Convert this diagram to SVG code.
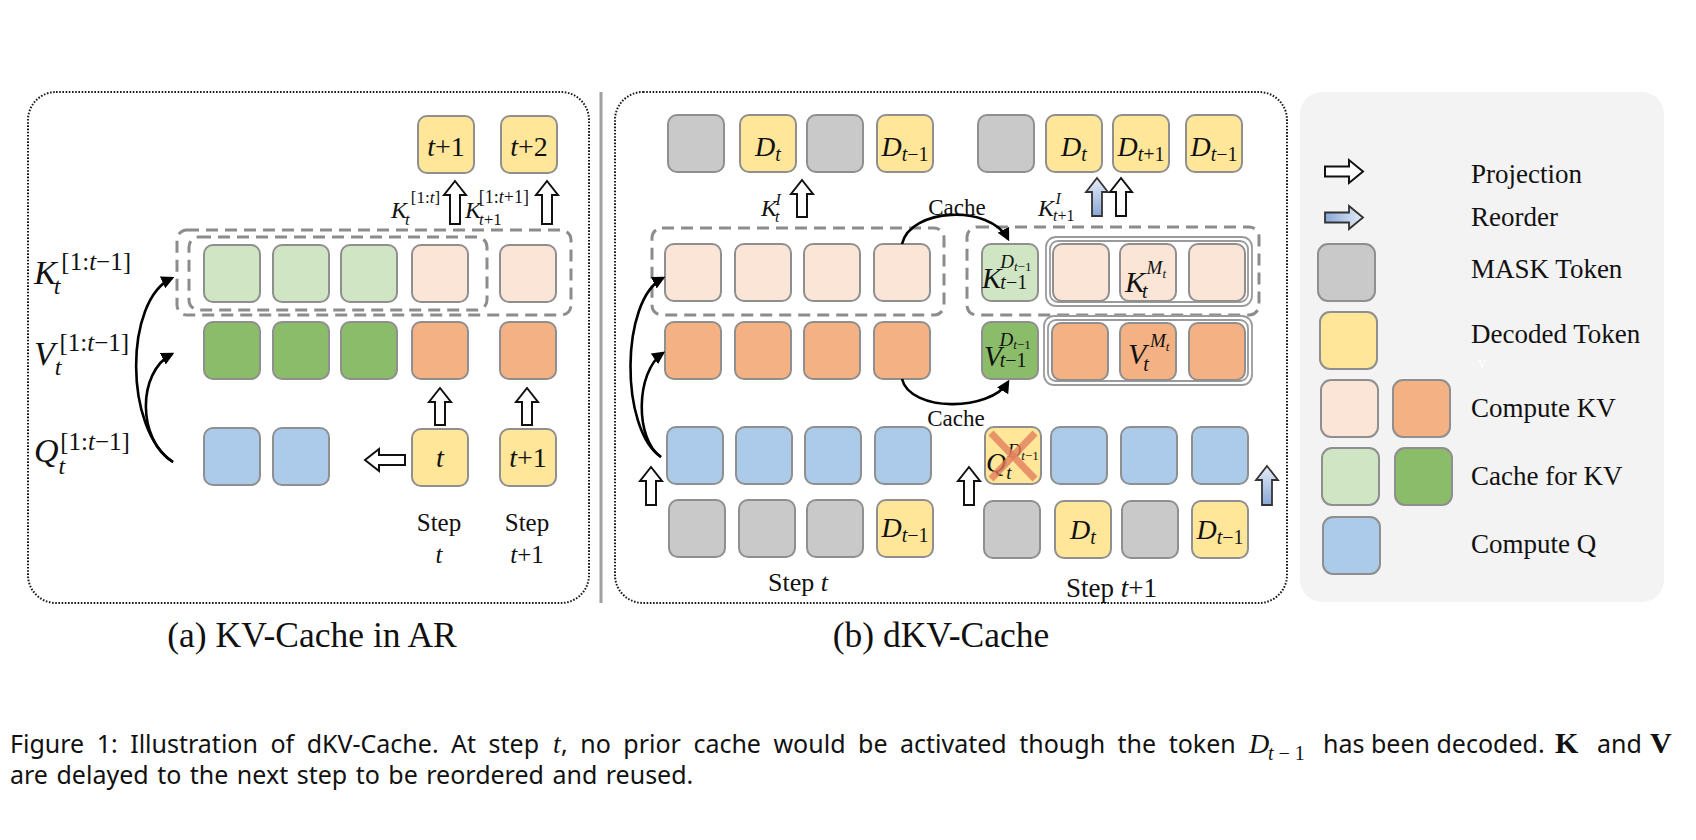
<svg xmlns="http://www.w3.org/2000/svg" width="1696" height="840" viewBox="0 0 1696 840">
<defs>
<style>
.bx{stroke:#8f8f8f;stroke-width:2}
.mask{fill:#c9c9c9}
.dec{fill:#ffe699}
.kc{fill:#fbe5d6}
.vc{fill:#f4b183}
.kg{fill:#d0e5c4}
.vg{fill:#8bbc69}
.qc{fill:#accbea}
.dot{fill:none;stroke:#1a1a1a;stroke-width:2;stroke-dasharray:1.6 1.6}
.dash{fill:none;stroke:#8c8c8c;stroke-width:3;stroke-dasharray:12 7}
.dbl{fill:none;stroke:#9a9a9a;stroke-width:1.8}
.ha{fill:#fff;stroke:#111;stroke-width:2}
.ba{fill:url(#gUp);stroke:#333;stroke-width:1.8}
.br{fill:url(#gRight);stroke:#333;stroke-width:1.8}
.cv{fill:none;stroke:#000;stroke-width:2.6}
.m{font-family:'Liberation Serif',serif;fill:#111}
.i{font-style:italic}
.lbl{font-family:'Liberation Serif',serif;fill:#111}
.leg{font-family:'Liberation Serif',serif;fill:#111;font-size:27px}
.cap{font-family:'Noto Sans','Open Sans',sans-serif;fill:#111;font-size:25px}
.cm{font-family:'Liberation Serif',serif;fill:#111}
</style>
<linearGradient id="gUp" x1="0" y1="1" x2="0" y2="0">
<stop offset="0" stop-color="#89a7d6"/><stop offset="1" stop-color="#e6eef8"/>
</linearGradient>
<linearGradient id="gRight" x1="0" y1="0" x2="1" y2="0">
<stop offset="0" stop-color="#89a7d6"/><stop offset="1" stop-color="#e6eef8"/>
</linearGradient>
<marker id="ah" viewBox="0 0 10 10" refX="8" refY="5" markerWidth="5" markerHeight="5" orient="auto" markerUnits="strokeWidth">
<path d="M0,0 L10,5 L0,10 Z" fill="#000"/>
</marker>
</defs>
<rect width="1696" height="840" fill="#fff"/>

<!-- frames -->
<g id="frames">
<rect class="dot" x="28" y="92" width="561" height="511" rx="28"/>
<line x1="601" y1="92" x2="601" y2="603" stroke="#a0a0a0" stroke-width="3"/>
<rect class="dot" x="615" y="92" width="672" height="511" rx="28"/>
<rect x="1300" y="92" width="364" height="510" rx="22" fill="#f3f3f3"/>
</g>

<!-- Panel (a) -->
<g id="a-groups">
<rect class="dash" x="177" y="230" width="394" height="85" rx="10"/>
<rect class="dash" x="189" y="237" width="298" height="73" rx="10"/>
</g>
<g id="a-top">
<rect class="bx dec" x="418" y="116" width="56" height="57" rx="9"/>
<text class="m" x="446" y="156" font-size="28" text-anchor="middle"><tspan class="i">t</tspan>+1</text>
<rect class="bx dec" x="501" y="116" width="56" height="57" rx="9"/>
<text class="m" x="529" y="156" font-size="28" text-anchor="middle"><tspan class="i">t</tspan>+2</text>
</g>
<g id="a-k">
<rect class="bx kg" x="204" y="245" width="56" height="57" rx="9"/>
<rect class="bx kg" x="273" y="245" width="56" height="57" rx="9"/>
<rect class="bx kg" x="341" y="245" width="56" height="57" rx="9"/>
<rect class="bx kc" x="412" y="245" width="56" height="57" rx="9"/>
<rect class="bx kc" x="500" y="245" width="56" height="57" rx="9"/>
</g>
<g id="a-v">
<rect class="bx vg" x="204" y="322" width="56" height="57" rx="9"/>
<rect class="bx vg" x="273" y="322" width="56" height="57" rx="9"/>
<rect class="bx vg" x="341" y="322" width="56" height="57" rx="9"/>
<rect class="bx vc" x="412" y="322" width="56" height="57" rx="9"/>
<rect class="bx vc" x="500" y="322" width="56" height="57" rx="9"/>
</g>
<g id="a-q">
<rect class="bx qc" x="204" y="428" width="56" height="57" rx="9"/>
<rect class="bx qc" x="273" y="428" width="56" height="57" rx="9"/>
<rect class="bx dec" x="412" y="429" width="56" height="57" rx="9"/>
<text class="m i" x="440" y="467" font-size="28" text-anchor="middle">t</text>
<rect class="bx dec" x="500" y="429" width="56" height="57" rx="9"/>
<text class="m" x="528" y="467" font-size="28" text-anchor="middle"><tspan class="i">t</tspan>+1</text>
</g>
<g id="a-labels">
<text class="m" x="34" y="284" font-size="34"><tspan class="i">K</tspan><tspan class="i" font-size="24" dx="-3" dy="10">t</tspan><tspan font-size="25" dx="1" dy="-24">[1:<tspan class="i">t</tspan>−1]</tspan></text>
<text class="m" x="34" y="365" font-size="34"><tspan class="i">V</tspan><tspan class="i" font-size="24" dx="0" dy="10">t</tspan><tspan font-size="25" dx="-2" dy="-24">[1:<tspan class="i">t</tspan>−1]</tspan></text>
<text class="m" x="34" y="462" font-size="34"><tspan class="i">Q</tspan><tspan class="i" font-size="24" dx="0" dy="12">t</tspan><tspan font-size="25" dx="-5" dy="-24">[1:<tspan class="i">t</tspan>−1]</tspan></text>
<text class="m" x="391" y="218" font-size="24"><tspan class="i">K</tspan><tspan class="i" font-size="17" dx="-2" dy="7">t</tspan><tspan font-size="17" dx="1" dy="-22">[1:<tspan class="i">t</tspan>]</tspan></text>
<text class="m" x="465" y="218" font-size="24"><tspan class="i">K</tspan><tspan font-size="17" dx="-2" dy="7"><tspan class="i">t</tspan>+1</tspan><tspan font-size="18" dx="-23" dy="-22">[1:<tspan class="i">t</tspan>+1]</tspan></text>
<text class="lbl" x="439" y="531" font-size="25" text-anchor="middle">Step</text>
<text class="lbl i" x="439" y="563" font-size="25" text-anchor="middle">t</text>
<text class="lbl" x="527" y="531" font-size="25" text-anchor="middle">Step</text>
<text class="lbl" x="527" y="563" font-size="25" text-anchor="middle"><tspan class="i">t</tspan>+1</text>
<text class="lbl" x="312" y="647" font-size="35.5" text-anchor="middle">(a) KV-Cache in AR</text>
</g>

<!-- Panel (b) -->
<g id="b-groups">
<rect class="dash" x="652" y="228" width="292" height="87" rx="10"/>
<rect class="dash" x="967" y="227" width="292" height="88" rx="10"/>
<rect x="1046" y="237" width="206" height="69" rx="10" fill="#fff" stroke="#9a9a9a" stroke-width="1.8"/>
<rect class="dbl" x="1050" y="241" width="198" height="61" rx="8"/>
<rect x="1044" y="316" width="208" height="69" rx="10" fill="#fff" stroke="#9a9a9a" stroke-width="1.8"/>
<rect class="dbl" x="1048" y="320" width="200" height="61" rx="8"/>
</g>
<g id="b-top">
<rect class="bx mask" x="668" y="115" width="56" height="57" rx="9"/>
<rect class="bx dec" x="740" y="115" width="56" height="57" rx="9"/>
<text class="m i" x="768" y="156" font-size="28" text-anchor="middle">D<tspan font-size="20" dy="5">t</tspan></text>
<rect class="bx mask" x="807" y="115" width="56" height="57" rx="9"/>
<rect class="bx dec" x="877" y="115" width="56" height="57" rx="9"/>
<text class="m" x="905" y="156" font-size="28" text-anchor="middle"><tspan class="i">D</tspan><tspan font-size="20" dy="5"><tspan class="i">t</tspan>−1</tspan></text>
<rect class="bx mask" x="978" y="115" width="56" height="57" rx="9"/>
<rect class="bx dec" x="1046" y="115" width="56" height="57" rx="9"/>
<text class="m i" x="1074" y="156" font-size="28" text-anchor="middle">D<tspan font-size="20" dy="5">t</tspan></text>
<rect class="bx dec" x="1113" y="115" width="56" height="57" rx="9"/>
<text class="m" x="1141" y="156" font-size="28" text-anchor="middle"><tspan class="i">D</tspan><tspan font-size="20" dy="5"><tspan class="i">t</tspan>+1</tspan></text>
<rect class="bx dec" x="1186" y="115" width="56" height="57" rx="9"/>
<text class="m" x="1214" y="156" font-size="28" text-anchor="middle"><tspan class="i">D</tspan><tspan font-size="20" dy="5"><tspan class="i">t</tspan>−1</tspan></text>
</g>
<g id="b-k">
<rect class="bx kc" x="665" y="244" width="56" height="57" rx="9"/>
<rect class="bx kc" x="735" y="244" width="56" height="57" rx="9"/>
<rect class="bx kc" x="804" y="244" width="56" height="57" rx="9"/>
<rect class="bx kc" x="874" y="244" width="56" height="57" rx="9"/>
<rect class="bx kg" x="982" y="244" width="56" height="57" rx="9"/>
<text class="m" x="982" y="288" font-size="29"><tspan class="i">K</tspan><tspan font-size="20" dx="-1" dy="1"><tspan class="i">t</tspan>−1</tspan><tspan class="i" font-size="19" dx="-27" dy="-21">D</tspan><tspan font-size="13" dy="3"><tspan class="i">t</tspan>−1</tspan></text>
<rect class="bx kc" x="1053" y="244" width="56" height="57" rx="9"/>
<rect class="bx kc" x="1120" y="244" width="56" height="57" rx="9"/>
<text class="m" x="1125" y="292" font-size="30"><tspan class="i">K</tspan><tspan class="i" font-size="20" dx="-3" dy="6">t</tspan><tspan class="i" font-size="19" dx="-1" dy="-24">M</tspan><tspan class="i" font-size="13" dy="4">t</tspan></text>
<rect class="bx kc" x="1189" y="244" width="56" height="57" rx="9"/>
</g>
<g id="b-v">
<rect class="bx vc" x="665" y="322" width="56" height="57" rx="9"/>
<rect class="bx vc" x="735" y="322" width="56" height="57" rx="9"/>
<rect class="bx vc" x="804" y="322" width="56" height="57" rx="9"/>
<rect class="bx vc" x="874" y="322" width="56" height="57" rx="9"/>
<rect class="bx vg" x="982" y="322" width="56" height="57" rx="9"/>
<text class="m" x="984" y="366" font-size="29"><tspan class="i">V</tspan><tspan font-size="20" dx="-2" dy="1"><tspan class="i">t</tspan>−1</tspan><tspan class="i" font-size="19" dx="-27" dy="-21">D</tspan><tspan font-size="13" dy="3"><tspan class="i">t</tspan>−1</tspan></text>
<rect class="bx vc" x="1052" y="323" width="56" height="57" rx="9"/>
<rect class="bx vc" x="1120" y="323" width="56" height="57" rx="9"/>
<text class="m" x="1128" y="364" font-size="30"><tspan class="i">V</tspan><tspan class="i" font-size="20" dx="-3" dy="7">t</tspan><tspan class="i" font-size="19" dx="1" dy="-24">M</tspan><tspan class="i" font-size="13" dy="4">t</tspan></text>
<rect class="bx vc" x="1189" y="323" width="56" height="57" rx="9"/>
</g>
<g id="b-q">
<rect class="bx qc" x="667" y="427" width="56" height="57" rx="9"/>
<rect class="bx qc" x="736" y="427" width="56" height="57" rx="9"/>
<rect class="bx qc" x="805" y="427" width="56" height="57" rx="9"/>
<rect class="bx qc" x="875" y="427" width="56" height="57" rx="9"/>
<rect class="bx dec" x="985" y="427" width="56" height="57" rx="9"/>
<text class="m" x="986" y="472" font-size="28"><tspan class="i">Q</tspan><tspan class="i" font-size="19" dx="0" dy="7">t</tspan><tspan class="i" font-size="19" dx="-4" dy="-22">D</tspan><tspan font-size="13" dy="3"><tspan class="i">t</tspan>−1</tspan></text>
<line x1="991" y1="433" x2="1035" y2="479" stroke="#e4805c" stroke-width="7" opacity="0.8"/>
<line x1="1035" y1="433" x2="991" y2="479" stroke="#e4805c" stroke-width="7" opacity="0.8"/>
<rect class="bx qc" x="1051" y="427" width="56" height="57" rx="9"/>
<rect class="bx qc" x="1121" y="427" width="56" height="57" rx="9"/>
<rect class="bx qc" x="1192" y="427" width="56" height="57" rx="9"/>
</g>
<g id="b-bottom">
<rect class="bx mask" x="669" y="500" width="56" height="57" rx="9"/>
<rect class="bx mask" x="739" y="500" width="56" height="57" rx="9"/>
<rect class="bx mask" x="807" y="500" width="56" height="57" rx="9"/>
<rect class="bx dec" x="877" y="500" width="56" height="57" rx="9"/>
<text class="m" x="905" y="537" font-size="28" text-anchor="middle"><tspan class="i">D</tspan><tspan font-size="20" dy="5"><tspan class="i">t</tspan>−1</tspan></text>
<rect class="bx mask" x="984" y="501" width="56" height="57" rx="9"/>
<rect class="bx dec" x="1055" y="501" width="56" height="57" rx="9"/>
<text class="m i" x="1083" y="539" font-size="28" text-anchor="middle">D<tspan font-size="20" dy="5">t</tspan></text>
<rect class="bx mask" x="1122" y="501" width="56" height="57" rx="9"/>
<rect class="bx dec" x="1192" y="501" width="56" height="57" rx="9"/>
<text class="m" x="1220" y="539" font-size="28" text-anchor="middle"><tspan class="i">D</tspan><tspan font-size="20" dy="5"><tspan class="i">t</tspan>−1</tspan></text>
</g>
<g id="b-labels">
<text class="m" x="761" y="216" font-size="24"><tspan class="i">K</tspan><tspan class="i" font-size="16" dx="-2" dy="6">t</tspan><tspan class="i" font-size="16" dx="-4" dy="-17">I</tspan></text>
<text class="m" x="1038" y="216" font-size="24"><tspan class="i">K</tspan><tspan font-size="16" dx="-1" dy="5"><tspan class="i">t</tspan>+1</tspan><tspan class="i" font-size="16" dx="-19" dy="-17">I</tspan></text>
<text class="lbl" x="957" y="215" font-size="23" text-anchor="middle">Cache</text>
<text class="lbl" x="956" y="426" font-size="23" text-anchor="middle">Cache</text>
<text class="lbl" x="768" y="591" font-size="26">Step <tspan class="i">t</tspan></text>
<text class="lbl" x="1066" y="597" font-size="27">Step <tspan class="i">t</tspan>+1</text>
<text class="lbl" x="941" y="647" font-size="35.5" text-anchor="middle">(b) dKV-Cache</text>
</g>

<!-- connectors -->
<g id="connectors">
<path class="cv" d="M173,462 C124,430 124,300 172,278" marker-end="url(#ah)"/>
<path class="cv" d="M173,462 C137,440 137,372 172,354" marker-end="url(#ah)"/>
<path class="cv" d="M661,457 C620,430 620,300 663,278" marker-end="url(#ah)"/>
<path class="cv" d="M661,457 C635,440 635,372 663,353" marker-end="url(#ah)"/>
<path class="cv" d="M902,244 C910,208 990,204 1008,239" marker-end="url(#ah)"/>
<path class="cv" d="M902,379 C910,412 990,412 1008,382" marker-end="url(#ah)"/>
<path class="ha" d="M455,181 L466,195 L460,195 L460,224 L450,224 L450,195 L444,195 Z"/>
<path class="ha" d="M547,181 L558,195 L552,195 L552,224 L542,224 L542,195 L536,195 Z"/>
<path class="ha" d="M440,388 L451,402 L445,402 L445,425 L435,425 L435,402 L429,402 Z"/>
<path class="ha" d="M527,388 L538,402 L532,402 L532,425 L522,425 L522,402 L516,402 Z"/>
<path class="ha" d="M365,460 L379,449 L379,455 L405,455 L405,465 L379,465 L379,471 Z"/>
<path class="ha" d="M802,180 L813,194 L807,194 L807,217 L797,217 L797,194 L791,194 Z"/>
<path class="ba" d="M1097,178 L1108,192 L1102,192 L1102,216 L1092,216 L1092,192 L1086,192 Z"/>
<path class="ha" d="M1121,178 L1132,192 L1126,192 L1126,216 L1116,216 L1116,192 L1110,192 Z"/>
<path class="ha" d="M651,467 L662,481 L656,481 L656,505 L646,505 L646,481 L640,481 Z"/>
<path class="ha" d="M969,467 L980,481 L974,481 L974,505 L964,505 L964,481 L958,481 Z"/>
<path class="ba" d="M1267,466 L1278,480 L1272,480 L1272,505 L1262,505 L1262,480 L1256,480 Z"/>
</g>

<!-- legend -->
<g id="legend">
<path class="ha" d="M1363,171.5 L1349,160 L1349,166.5 L1325,166.5 L1325,176.5 L1349,176.5 L1349,183 Z"/>
<text class="leg" x="1471" y="183">Projection</text>
<path class="br" d="M1363,217.5 L1349,206 L1349,212.5 L1325,212.5 L1325,222.5 L1349,222.5 L1349,229 Z"/>
<text class="leg" x="1471" y="226">Reorder</text>
<rect class="bx mask" x="1318" y="244" width="57" height="57" rx="10"/>
<text class="leg" x="1471" y="278">MASK Token</text>
<rect class="bx dec" x="1320" y="312" width="57" height="57" rx="10"/>
<text class="leg" x="1471" y="343">Decoded Token</text>
<text x="1478" y="368" font-family="'Liberation Serif',serif" font-size="17" fill="#ffffff">v</text>
<rect class="bx kc" x="1321" y="380" width="57" height="57" rx="10"/>
<rect class="bx vc" x="1393" y="380" width="57" height="57" rx="10"/>
<text class="leg" x="1471" y="417">Compute KV</text>
<rect class="bx kg" x="1322" y="448" width="57" height="57" rx="10"/>
<rect class="bx vg" x="1395" y="448" width="57" height="57" rx="10"/>
<text class="leg" x="1471" y="485">Cache for KV</text>
<rect class="bx qc" x="1323" y="517" width="57" height="57" rx="10"/>
<text class="leg" x="1471" y="553">Compute Q</text>
</g>

<!-- figure caption -->
<g id="caption">
<text class="cap" x="10" y="753" word-spacing="6">Figure 1: Illustration of dKV-Cache. At step</text>
<text class="cm i" x="553" y="753" font-size="27">t</text>
<text class="cap" x="561" y="753" word-spacing="6">, no prior cache would be activated though the token</text>
<text class="cm i" x="1249" y="753" font-size="28">D</text>
<text class="cm" x="1268" y="760" font-size="20"><tspan class="i">t</tspan> − 1</text>
<text class="cap" x="1323" y="753">has been decoded.</text>
<text class="cm" x="1555" y="753" font-size="30" font-weight="bold">K</text>
<text class="cap" x="1597" y="753">and</text>
<text class="cm" x="1650" y="753" font-size="30" font-weight="bold">V</text>
<text class="cap" x="10" y="784" word-spacing="2">are delayed to the next step to be reordered and reused.</text>
</g>
</svg>
